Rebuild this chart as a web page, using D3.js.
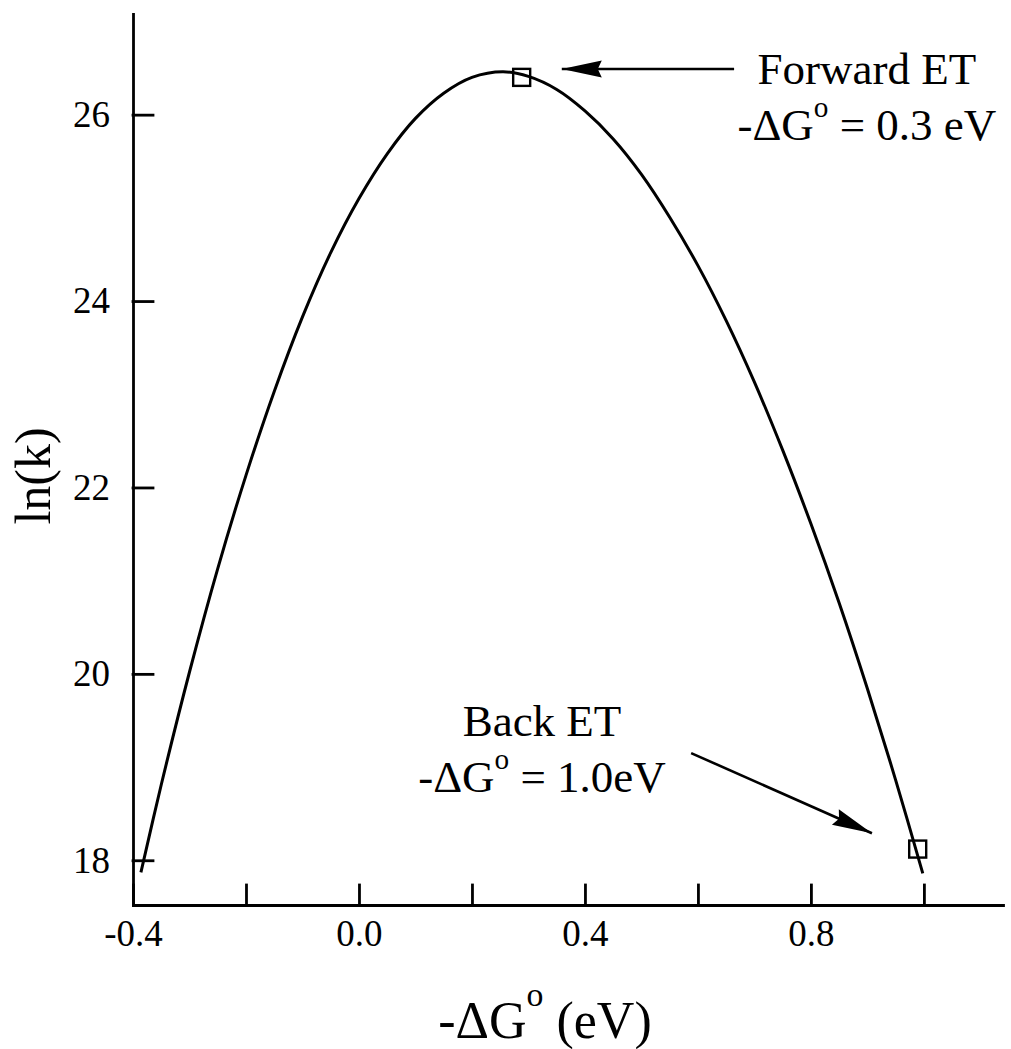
<!DOCTYPE html>
<html>
<head>
<meta charset="utf-8">
<script src="https://cdn.jsdelivr.net/npm/d3@7"></script>
<style>
  body { margin: 0; background: #fff; }
  text { font-family: "Liberation Serif", "Times New Roman", serif; fill: #000; }
</style>
</head>
<body>
<div class="canvas"></div>
<script>
// curve: -dG (eV) vs ln(k)
const dG = [-0.386, -0.35, -0.30, -0.25, -0.20, -0.15, -0.10, -0.05, 0.00, 0.05, 0.10,
  0.15, 0.20, 0.255, 0.30, 0.35, 0.40, 0.45, 0.50, 0.55, 0.60, 0.65, 0.70, 0.75,
  0.80, 0.85, 0.90, 0.95, 0.998];
const lnk = [17.87, 18.81, 20.02, 21.13, 22.13, 23.03, 23.83, 24.52, 25.10, 25.58, 25.96,
  26.23, 26.40, 26.46, 26.41, 26.27, 26.04, 25.74, 25.36, 24.90, 24.38, 23.79, 23.13, 22.40,
  21.61, 20.76, 19.84, 18.86, 17.86];

// the two marked points
const pointDG = [0.288, 0.989];
const pointLnk = [26.40, 18.12];

// ticks
const xTicks = [-0.4, -0.2, 0.0, 0.2, 0.4, 0.6, 0.8, 1.0];
const xLabeled = [-0.4, 0.0, 0.4, 0.8];
const yTicks = [18, 20, 22, 24, 26];

// annotations (data coords)
const arrowFrom = [[0.664, 26.49], [0.588, 19.15]];
const arrowTo = [[0.359, 26.49], [0.908, 18.29]];
const noteTitle = ["Forward ET", "Back ET"];
const noteValue = [" = 0.3 eV", " = 1.0eV"];
const noteX = [0.899, 0.324];
const noteY1 = [26.33, 19.33];
const noteY2 = [25.73, 18.73];

const width = 1011;
const height = 1049;

const svg = d3
  .select(".canvas")
  .append("svg")
  .attr("width", width)
  .attr("height", height);

// scales
const x = d3.scaleLinear().domain([-0.4, 1.14]).range([133, 1003]);
const y = d3.scaleLinear().domain([17.52, 27.08]).range([905, 14]);

const fmt = (d) => (d < 0 ? "-" : "") + Math.abs(d).toFixed(1);

// axes
const xAxis = d3
  .axisBottom(x)
  .tickValues(xTicks)
  .tickSizeInner(-20)
  .tickSizeOuter(0)
  .tickPadding(15)
  .tickFormat((d) => (xLabeled.some((v) => Math.abs(v - d) < 1e-9) ? fmt(d) : ""));

const yAxis = d3
  .axisLeft(y)
  .tickValues(yTicks)
  .tickSizeInner(-20)
  .tickSizeOuter(0)
  .tickPadding(23);

const xAxisGroup = svg.append("g").attr("transform", `translate(0, ${y.range()[0]})`).call(xAxis);
const yAxisGroup = svg.append("g").attr("transform", `translate(${x.range()[0]}, 0)`).call(yAxis);

[xAxisGroup, yAxisGroup].forEach((g) => {
  g.attr("font-family", null).attr("font-size", null);
  g.selectAll("path, line").attr("stroke", "#000").attr("stroke-width", 2.8).attr("stroke-linecap", "square");
  g.selectAll("text").style("font-size", "37px");
});

// curve
const data = dG.map((d, i) => ({ dG: d, lnk: lnk[i] }));
const line = d3
  .line()
  .x((d) => x(d.dG))
  .y((d) => y(d.lnk))
  .curve(d3.curveCatmullRom.alpha(0.5));

svg
  .append("path")
  .datum(data)
  .attr("fill", "none")
  .attr("stroke", "#000")
  .attr("stroke-width", 3)
  .attr("d", line);

// square markers
const sq = 17;
svg
  .selectAll("rect.pt")
  .data(pointDG)
  .enter()
  .append("rect")
  .attr("class", "pt")
  .attr("x", (d) => x(d) - sq / 2)
  .attr("y", (d, i) => y(pointLnk[i]) - sq / 2)
  .attr("width", sq)
  .attr("height", sq)
  .attr("fill", "none")
  .attr("stroke", "#000")
  .attr("stroke-width", 2.4);

// arrow head
svg
  .append("defs")
  .append("marker")
  .attr("id", "head")
  .attr("markerUnits", "userSpaceOnUse")
  .attr("viewBox", "-41 -10 42 20")
  .attr("markerWidth", 42)
  .attr("markerHeight", 20)
  .attr("refX", 0)
  .attr("refY", 0)
  .attr("orient", "auto")
  .append("path")
  .attr("d", "M0,0 L-40,-8.5 L-36,0 L-40,8.5 Z")
  .attr("fill", "#000");

svg
  .selectAll("line.arrow")
  .data(arrowFrom)
  .enter()
  .append("line")
  .attr("class", "arrow")
  .attr("x1", (d) => x(d[0]))
  .attr("y1", (d) => y(d[1]))
  .attr("x2", (d, i) => x(arrowTo[i][0]))
  .attr("y2", (d, i) => y(arrowTo[i][1]))
  .attr("stroke", "#000")
  .attr("stroke-width", 2.6)
  .attr("marker-end", "url(#head)");

// text with superscript o
const deltaG = (sel, size, rise, rest) => {
  sel.append("tspan").text("-\u0394G");
  sel.append("tspan").attr("dy", -rise).style("font-size", size * 0.65 + "px").text("o");
  sel.append("tspan").attr("dy", rise).text(rest);
};

noteTitle.forEach((t, i) => {
  svg
    .append("text")
    .attr("x", x(noteX[i]))
    .attr("y", y(noteY1[i]))
    .attr("text-anchor", "middle")
    .style("font-size", "45px")
    .text(t);
  const l2 = svg
    .append("text")
    .attr("x", x(noteX[i]))
    .attr("y", y(noteY2[i]))
    .attr("text-anchor", "middle")
    .style("font-size", "45px");
  deltaG(l2, 45, 23, noteValue[i]);
});

// axis titles
const xTitle = svg
  .append("text")
  .attr("x", 545)
  .attr("y", 1038)
  .attr("text-anchor", "middle")
  .style("font-size", "52px");
deltaG(xTitle, 52, 32, " (eV)");

svg
  .append("text")
  .attr("transform", "translate(50, 476) rotate(-90)")
  .attr("text-anchor", "middle")
  .style("font-size", "50px")
  .text("ln(k)");
</script>
</body>
</html>
